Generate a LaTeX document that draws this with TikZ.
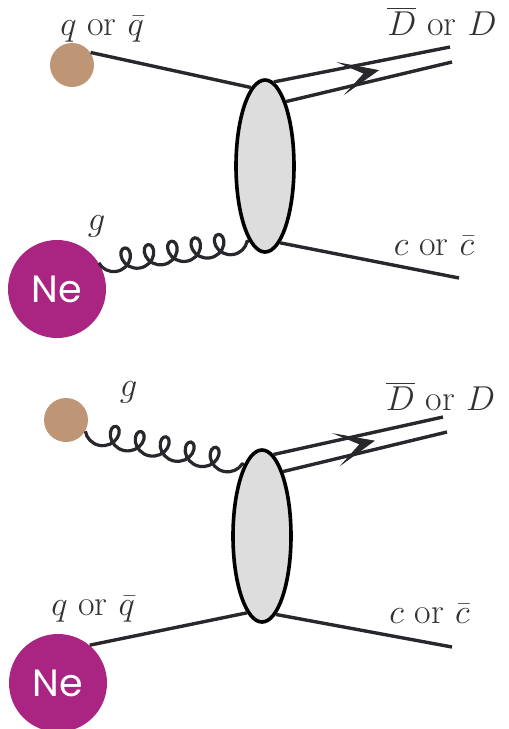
\documentclass[tikz,border=0pt]{standalone}
\usepackage{fontspec}
\newfontfamily\nefont{Poppins}
\usetikzlibrary{decorations.pathmorphing,decorations.markings,arrows.meta,shapes.geometric,calc}
\definecolor{ink}{RGB}{40,40,44}
\definecolor{brownball}{RGB}{190,150,118}
\definecolor{nepurple}{RGB}{170,36,130}
\definecolor{blobgray}{RGB}{221,221,221}
\begin{document}
\begin{tikzpicture}[x=0.5pt,y=-0.5pt,
 lbl/.style={font=\fontsize{18}{20}\selectfont, text=black!80, inner sep=0, anchor=base},
 quark/.style={draw=ink, line width=1.7pt},
 gluon/.style={draw=ink, line width=1.6pt, decorate, decoration={coil, amplitude=5.5pt, segment length=#1, aspect=0.9, mirror}},
 parton/.style={circle, fill=brownball, minimum size=22pt, inner sep=0},
 nucleus/.style={circle, fill=nepurple, minimum size=49pt, inner sep=0, text=white, font=\nefont\fontsize{19}{20}\selectfont},
 blob/.style={ellipse, draw=black, line width=1.8pt, fill=blobgray, minimum width=29pt, minimum height=86pt, inner sep=0},
 dmark/.style={postaction={decorate}, decoration={markings, mark=at position #1 with {\arrow[ink]{Stealth[length=20pt,width=17pt,inset=12pt]}}}}
]
\useasboundingbox (0,0) rectangle (509,729);
\clip (0,0) rectangle (509,729);
% ---------- top diagram ----------
\node[parton] (pA) at (72,65) {};
\node[nucleus] (nA) at (57,289) {Ne};
\node[blob] (bA) at (265,166) {};
\coordinate (dA1) at (450,47);
\coordinate (dA2) at (452,62);
\coordinate (cA) at (459,278);
\draw[quark] (pA.34) -- (bA.100);
\draw[gluon=11.81pt] (nA.32) -- (bA.-102);
\draw[quark] (bA.84) -- (dA1);
\draw[quark] (bA.72) -- (dA2);
\draw[quark] (bA.-79) -- (cA);
\path[dmark=0.58] ($(bA.84)!0.5!(bA.72)$) -- ($(dA1)!0.5!(dA2)$);
\node[lbl] (lqA) at (102,35) {$q$ or $\bar{q}$};
\node[lbl] (ldA) at (442,35) {$\overline{D}$ or $D$};
\node[lbl] (lcA) at (434,255) {$c$ or $\bar{c}$};
\node[lbl] (lgA) at (96.5,230) {$g$};
% ---------- bottom diagram ----------
\node[parton] (pB) at (66,420) {};
\node[nucleus] (nB) at (58,683) {Ne};
\node[blob] (bB) at (262,536) {};
\coordinate (dB1) at (443,417);
\coordinate (dB2) at (447,432);
\coordinate (cB) at (452,647);
\draw[gluon=12.76pt] (pB.-30) -- (bB.104);
\draw[quark] (nB.50) -- (bB.-101);
\draw[quark] (bB.82) -- (dB1);
\draw[quark] (bB.72) -- (dB2);
\draw[quark] (bB.-80) -- (cB);
\path[dmark=0.58] ($(bB.82)!0.5!(bB.72)$) -- ($(dB1)!0.5!(dB2)$);
\node[lbl] (lgB) at (128.5,396) {$g$};
\node[lbl] (ldB) at (440.5,410) {$\overline{D}$ or $D$};
\node[lbl] (lcB) at (429.5,623) {$c$ or $\bar{c}$};
\node[lbl] (lqB) at (93,615) {$q$ or $\bar{q}$};
\end{tikzpicture}
\end{document}
